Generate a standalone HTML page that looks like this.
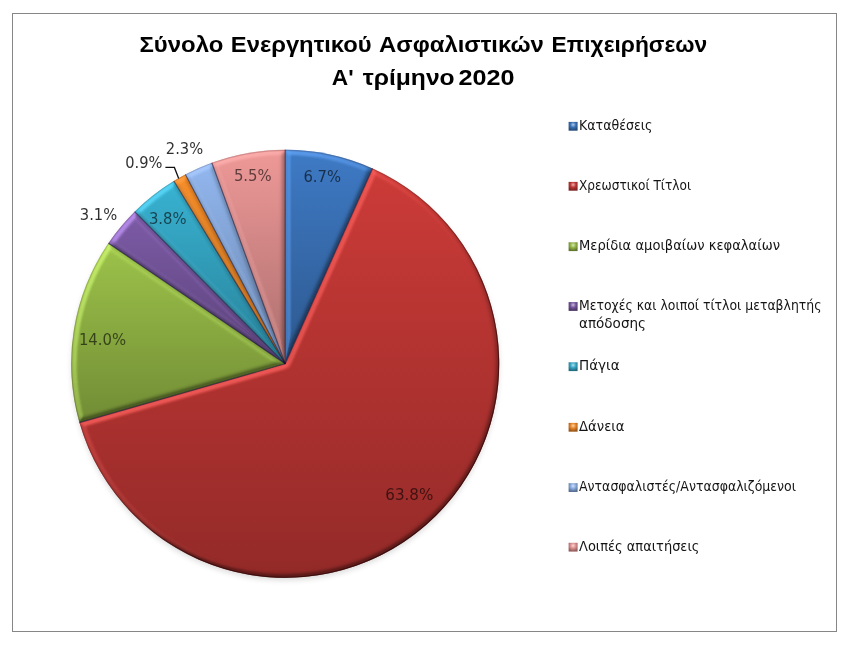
<!DOCTYPE html>
<html lang="el"><head><meta charset="utf-8"><title>Σύνολο Ενεργητικού Ασφαλιστικών Επιχειρήσεων</title>
<style>
html,body{margin:0;padding:0;background:#fff;}
body{width:860px;height:647px;overflow:hidden;font-family:"Liberation Sans",sans-serif;}
svg{display:block}
.title text{font-family:"Liberation Sans",sans-serif;font-weight:bold;font-size:22.3px;fill:#000}
.dl text{font-family:"DejaVu Sans Condensed","DejaVu Sans","Liberation Sans",sans-serif;font-size:15.8px;fill:#000;font-stretch:condensed}
.lg text{font-family:"DejaVu Sans Condensed","DejaVu Sans","Liberation Sans",sans-serif;font-size:13.7px;fill:#000;fill-opacity:0.92;font-stretch:condensed}
</style></head><body>
<svg width="860" height="647" viewBox="0 0 860 647">
<defs>
<filter id="bev0" x="-5%" y="-5%" width="110%" height="110%" color-interpolation-filters="sRGB">
  <feGaussianBlur in="SourceAlpha" stdDeviation="2.5" result="h"/>
  <feDiffuseLighting in="h" surfaceScale="5.0" diffuseConstant="1" lighting-color="#ffffff" result="lit">
    <feDistantLight azimuth="245" elevation="45"/>
  </feDiffuseLighting>
  <feColorMatrix in="lit" type="matrix" values="0 0 0 0 0.412  0 0 0 0 0.675  0 0 0 0 1.000  2.6 0 0 0 -1.8385" result="hl"/>
  <feComposite in="hl" in2="SourceAlpha" operator="in" result="hlc"/>
  <feDiffuseLighting in="h" surfaceScale="5.0" diffuseConstant="1" lighting-color="#ffffff" result="lit2">
    <feDistantLight azimuth="175" elevation="45"/>
  </feDiffuseLighting>
  <feColorMatrix in="lit2" type="matrix" values="0 0 0 0 0.412  0 0 0 0 0.675  0 0 0 0 1.000  1.3 0 0 0 -0.9192" result="hl2"/>
  <feComposite in="hl2" in2="SourceAlpha" operator="in" result="hlc2"/>
  <feColorMatrix in="lit" type="matrix" values="0 0 0 0 0  0 0 0 0 0  0 0 0 0 0  -0.5 0 0 0 0.3536" result="sh"/>
  <feComposite in="sh" in2="SourceAlpha" operator="in" result="shc"/>
  <feMerge><feMergeNode in="SourceGraphic"/><feMergeNode in="shc"/><feMergeNode in="hlc"/><feMergeNode in="hlc2"/></feMerge>
</filter>
<filter id="bev1" x="-5%" y="-5%" width="110%" height="110%" color-interpolation-filters="sRGB">
  <feGaussianBlur in="SourceAlpha" stdDeviation="2.5" result="h"/>
  <feDiffuseLighting in="h" surfaceScale="5.0" diffuseConstant="1" lighting-color="#ffffff" result="lit">
    <feDistantLight azimuth="245" elevation="45"/>
  </feDiffuseLighting>
  <feColorMatrix in="lit" type="matrix" values="0 0 0 0 1.000  0 0 0 0 0.388  0 0 0 0 0.376  2.6 0 0 0 -1.8385" result="hl"/>
  <feComposite in="hl" in2="SourceAlpha" operator="in" result="hlc"/>
  <feDiffuseLighting in="h" surfaceScale="5.0" diffuseConstant="1" lighting-color="#ffffff" result="lit2">
    <feDistantLight azimuth="175" elevation="45"/>
  </feDiffuseLighting>
  <feColorMatrix in="lit2" type="matrix" values="0 0 0 0 1.000  0 0 0 0 0.388  0 0 0 0 0.376  1.3 0 0 0 -0.9192" result="hl2"/>
  <feComposite in="hl2" in2="SourceAlpha" operator="in" result="hlc2"/>
  <feColorMatrix in="lit" type="matrix" values="0 0 0 0 0  0 0 0 0 0  0 0 0 0 0  -0.5 0 0 0 0.3536" result="sh"/>
  <feComposite in="sh" in2="SourceAlpha" operator="in" result="shc"/>
  <feMerge><feMergeNode in="SourceGraphic"/><feMergeNode in="shc"/><feMergeNode in="hlc"/><feMergeNode in="hlc2"/></feMerge>
</filter>
<filter id="bev2" x="-5%" y="-5%" width="110%" height="110%" color-interpolation-filters="sRGB">
  <feGaussianBlur in="SourceAlpha" stdDeviation="2.5" result="h"/>
  <feDiffuseLighting in="h" surfaceScale="5.0" diffuseConstant="1" lighting-color="#ffffff" result="lit">
    <feDistantLight azimuth="245" elevation="45"/>
  </feDiffuseLighting>
  <feColorMatrix in="lit" type="matrix" values="0 0 0 0 0.831  0 0 0 0 1.000  0 0 0 0 0.467  2.6 0 0 0 -1.8385" result="hl"/>
  <feComposite in="hl" in2="SourceAlpha" operator="in" result="hlc"/>
  <feDiffuseLighting in="h" surfaceScale="5.0" diffuseConstant="1" lighting-color="#ffffff" result="lit2">
    <feDistantLight azimuth="175" elevation="45"/>
  </feDiffuseLighting>
  <feColorMatrix in="lit2" type="matrix" values="0 0 0 0 0.831  0 0 0 0 1.000  0 0 0 0 0.467  1.3 0 0 0 -0.9192" result="hl2"/>
  <feComposite in="hl2" in2="SourceAlpha" operator="in" result="hlc2"/>
  <feColorMatrix in="lit" type="matrix" values="0 0 0 0 0  0 0 0 0 0  0 0 0 0 0  -0.5 0 0 0 0.3536" result="sh"/>
  <feComposite in="sh" in2="SourceAlpha" operator="in" result="shc"/>
  <feMerge><feMergeNode in="SourceGraphic"/><feMergeNode in="shc"/><feMergeNode in="hlc"/><feMergeNode in="hlc2"/></feMerge>
</filter>
<filter id="bev3" x="-5%" y="-5%" width="110%" height="110%" color-interpolation-filters="sRGB">
  <feGaussianBlur in="SourceAlpha" stdDeviation="2.5" result="h"/>
  <feDiffuseLighting in="h" surfaceScale="5.0" diffuseConstant="1" lighting-color="#ffffff" result="lit">
    <feDistantLight azimuth="245" elevation="45"/>
  </feDiffuseLighting>
  <feColorMatrix in="lit" type="matrix" values="0 0 0 0 0.784  0 0 0 0 0.608  0 0 0 0 1.000  2.6 0 0 0 -1.8385" result="hl"/>
  <feComposite in="hl" in2="SourceAlpha" operator="in" result="hlc"/>
  <feDiffuseLighting in="h" surfaceScale="5.0" diffuseConstant="1" lighting-color="#ffffff" result="lit2">
    <feDistantLight azimuth="175" elevation="45"/>
  </feDiffuseLighting>
  <feColorMatrix in="lit2" type="matrix" values="0 0 0 0 0.784  0 0 0 0 0.608  0 0 0 0 1.000  1.3 0 0 0 -0.9192" result="hl2"/>
  <feComposite in="hl2" in2="SourceAlpha" operator="in" result="hlc2"/>
  <feColorMatrix in="lit" type="matrix" values="0 0 0 0 0  0 0 0 0 0  0 0 0 0 0  -0.5 0 0 0 0.3536" result="sh"/>
  <feComposite in="sh" in2="SourceAlpha" operator="in" result="shc"/>
  <feMerge><feMergeNode in="SourceGraphic"/><feMergeNode in="shc"/><feMergeNode in="hlc"/><feMergeNode in="hlc2"/></feMerge>
</filter>
<filter id="bev4" x="-5%" y="-5%" width="110%" height="110%" color-interpolation-filters="sRGB">
  <feGaussianBlur in="SourceAlpha" stdDeviation="2.5" result="h"/>
  <feDiffuseLighting in="h" surfaceScale="5.0" diffuseConstant="1" lighting-color="#ffffff" result="lit">
    <feDistantLight azimuth="245" elevation="45"/>
  </feDiffuseLighting>
  <feColorMatrix in="lit" type="matrix" values="0 0 0 0 0.369  0 0 0 0 0.871  0 0 0 0 1.000  2.6 0 0 0 -1.8385" result="hl"/>
  <feComposite in="hl" in2="SourceAlpha" operator="in" result="hlc"/>
  <feDiffuseLighting in="h" surfaceScale="5.0" diffuseConstant="1" lighting-color="#ffffff" result="lit2">
    <feDistantLight azimuth="175" elevation="45"/>
  </feDiffuseLighting>
  <feColorMatrix in="lit2" type="matrix" values="0 0 0 0 0.369  0 0 0 0 0.871  0 0 0 0 1.000  1.3 0 0 0 -0.9192" result="hl2"/>
  <feComposite in="hl2" in2="SourceAlpha" operator="in" result="hlc2"/>
  <feColorMatrix in="lit" type="matrix" values="0 0 0 0 0  0 0 0 0 0  0 0 0 0 0  -0.5 0 0 0 0.3536" result="sh"/>
  <feComposite in="sh" in2="SourceAlpha" operator="in" result="shc"/>
  <feMerge><feMergeNode in="SourceGraphic"/><feMergeNode in="shc"/><feMergeNode in="hlc"/><feMergeNode in="hlc2"/></feMerge>
</filter>
<filter id="bev5" x="-5%" y="-5%" width="110%" height="110%" color-interpolation-filters="sRGB">
  <feGaussianBlur in="SourceAlpha" stdDeviation="2.5" result="h"/>
  <feDiffuseLighting in="h" surfaceScale="5.0" diffuseConstant="1" lighting-color="#ffffff" result="lit">
    <feDistantLight azimuth="245" elevation="45"/>
  </feDiffuseLighting>
  <feColorMatrix in="lit" type="matrix" values="0 0 0 0 1.000  0 0 0 0 0.631  0 0 0 0 0.278  2.6 0 0 0 -1.8385" result="hl"/>
  <feComposite in="hl" in2="SourceAlpha" operator="in" result="hlc"/>
  <feDiffuseLighting in="h" surfaceScale="5.0" diffuseConstant="1" lighting-color="#ffffff" result="lit2">
    <feDistantLight azimuth="175" elevation="45"/>
  </feDiffuseLighting>
  <feColorMatrix in="lit2" type="matrix" values="0 0 0 0 1.000  0 0 0 0 0.631  0 0 0 0 0.278  1.3 0 0 0 -0.9192" result="hl2"/>
  <feComposite in="hl2" in2="SourceAlpha" operator="in" result="hlc2"/>
  <feColorMatrix in="lit" type="matrix" values="0 0 0 0 0  0 0 0 0 0  0 0 0 0 0  -0.5 0 0 0 0.3536" result="sh"/>
  <feComposite in="sh" in2="SourceAlpha" operator="in" result="shc"/>
  <feMerge><feMergeNode in="SourceGraphic"/><feMergeNode in="shc"/><feMergeNode in="hlc"/><feMergeNode in="hlc2"/></feMerge>
</filter>
<filter id="bev6" x="-5%" y="-5%" width="110%" height="110%" color-interpolation-filters="sRGB">
  <feGaussianBlur in="SourceAlpha" stdDeviation="2.5" result="h"/>
  <feDiffuseLighting in="h" surfaceScale="5.0" diffuseConstant="1" lighting-color="#ffffff" result="lit">
    <feDistantLight azimuth="245" elevation="45"/>
  </feDiffuseLighting>
  <feColorMatrix in="lit" type="matrix" values="0 0 0 0 0.667  0 0 0 0 0.800  0 0 0 0 1.000  2.6 0 0 0 -1.8385" result="hl"/>
  <feComposite in="hl" in2="SourceAlpha" operator="in" result="hlc"/>
  <feDiffuseLighting in="h" surfaceScale="5.0" diffuseConstant="1" lighting-color="#ffffff" result="lit2">
    <feDistantLight azimuth="175" elevation="45"/>
  </feDiffuseLighting>
  <feColorMatrix in="lit2" type="matrix" values="0 0 0 0 0.667  0 0 0 0 0.800  0 0 0 0 1.000  1.3 0 0 0 -0.9192" result="hl2"/>
  <feComposite in="hl2" in2="SourceAlpha" operator="in" result="hlc2"/>
  <feColorMatrix in="lit" type="matrix" values="0 0 0 0 0  0 0 0 0 0  0 0 0 0 0  -0.5 0 0 0 0.3536" result="sh"/>
  <feComposite in="sh" in2="SourceAlpha" operator="in" result="shc"/>
  <feMerge><feMergeNode in="SourceGraphic"/><feMergeNode in="shc"/><feMergeNode in="hlc"/><feMergeNode in="hlc2"/></feMerge>
</filter>
<filter id="bev7" x="-5%" y="-5%" width="110%" height="110%" color-interpolation-filters="sRGB">
  <feGaussianBlur in="SourceAlpha" stdDeviation="2.5" result="h"/>
  <feDiffuseLighting in="h" surfaceScale="5.0" diffuseConstant="1" lighting-color="#ffffff" result="lit">
    <feDistantLight azimuth="245" elevation="45"/>
  </feDiffuseLighting>
  <feColorMatrix in="lit" type="matrix" values="0 0 0 0 1.000  0 0 0 0 0.694  0 0 0 0 0.690  2.6 0 0 0 -1.8385" result="hl"/>
  <feComposite in="hl" in2="SourceAlpha" operator="in" result="hlc"/>
  <feDiffuseLighting in="h" surfaceScale="5.0" diffuseConstant="1" lighting-color="#ffffff" result="lit2">
    <feDistantLight azimuth="175" elevation="45"/>
  </feDiffuseLighting>
  <feColorMatrix in="lit2" type="matrix" values="0 0 0 0 1.000  0 0 0 0 0.694  0 0 0 0 0.690  1.3 0 0 0 -0.9192" result="hl2"/>
  <feComposite in="hl2" in2="SourceAlpha" operator="in" result="hlc2"/>
  <feColorMatrix in="lit" type="matrix" values="0 0 0 0 0  0 0 0 0 0  0 0 0 0 0  -0.5 0 0 0 0.3536" result="sh"/>
  <feComposite in="sh" in2="SourceAlpha" operator="in" result="shc"/>
  <feMerge><feMergeNode in="SourceGraphic"/><feMergeNode in="shc"/><feMergeNode in="hlc"/><feMergeNode in="hlc2"/></feMerge>
</filter>

<filter id="ds" x="-10%" y="-10%" width="120%" height="120%">
  <feGaussianBlur stdDeviation="3"/>
</filter>
<linearGradient id="g0" gradientUnits="userSpaceOnUse" x1="0" y1="149.8" x2="0" y2="363.8"><stop offset="0" stop-color="#3E7AC5"/><stop offset="1" stop-color="#2D588E"/></linearGradient>
<linearGradient id="g1" gradientUnits="userSpaceOnUse" x1="0" y1="168.5" x2="0" y2="577.8"><stop offset="0" stop-color="#CC3B38"/><stop offset="1" stop-color="#932A28"/></linearGradient>
<linearGradient id="g2" gradientUnits="userSpaceOnUse" x1="0" y1="243.2" x2="0" y2="422.6"><stop offset="0" stop-color="#9DC34A"/><stop offset="1" stop-color="#718C35"/></linearGradient>
<linearGradient id="g3" gradientUnits="userSpaceOnUse" x1="0" y1="211.7" x2="0" y2="363.8"><stop offset="0" stop-color="#7D5BA7"/><stop offset="1" stop-color="#5A4278"/></linearGradient>
<linearGradient id="g4" gradientUnits="userSpaceOnUse" x1="0" y1="181.0" x2="0" y2="363.8"><stop offset="0" stop-color="#38B2D2"/><stop offset="1" stop-color="#288097"/></linearGradient>
<linearGradient id="g5" gradientUnits="userSpaceOnUse" x1="0" y1="174.5" x2="0" y2="363.8"><stop offset="0" stop-color="#F98E28"/><stop offset="1" stop-color="#B3661D"/></linearGradient>
<linearGradient id="g6" gradientUnits="userSpaceOnUse" x1="0" y1="162.8" x2="0" y2="363.8"><stop offset="0" stop-color="#92B7EF"/><stop offset="1" stop-color="#6984AC"/></linearGradient>
<linearGradient id="g7" gradientUnits="userSpaceOnUse" x1="0" y1="149.8" x2="0" y2="363.8"><stop offset="0" stop-color="#EE9998"/><stop offset="1" stop-color="#AB6E6D"/></linearGradient>

<radialGradient id="m0" cx="0.5" cy="0.32" r="0.62"><stop offset="0" stop-color="#B2CAE8"/><stop offset="0.5" stop-color="#3970B5"/><stop offset="1" stop-color="#264C7A"/></radialGradient>
<radialGradient id="m1" cx="0.5" cy="0.32" r="0.62"><stop offset="0" stop-color="#EBB1AF"/><stop offset="0.5" stop-color="#BC3634"/><stop offset="1" stop-color="#7E2523"/></radialGradient>
<radialGradient id="m2" cx="0.5" cy="0.32" r="0.62"><stop offset="0" stop-color="#D8E7B7"/><stop offset="0.5" stop-color="#90B344"/><stop offset="1" stop-color="#61792E"/></radialGradient>
<radialGradient id="m3" cx="0.5" cy="0.32" r="0.62"><stop offset="0" stop-color="#CBBDDC"/><stop offset="0.5" stop-color="#73549A"/><stop offset="1" stop-color="#4E3868"/></radialGradient>
<radialGradient id="m4" cx="0.5" cy="0.32" r="0.62"><stop offset="0" stop-color="#AFE0ED"/><stop offset="0.5" stop-color="#34A4C1"/><stop offset="1" stop-color="#236E82"/></radialGradient>
<radialGradient id="m5" cx="0.5" cy="0.32" r="0.62"><stop offset="0" stop-color="#FDD2A9"/><stop offset="0.5" stop-color="#E58325"/><stop offset="1" stop-color="#9A5819"/></radialGradient>
<radialGradient id="m6" cx="0.5" cy="0.32" r="0.62"><stop offset="0" stop-color="#D3E2F9"/><stop offset="0.5" stop-color="#86A8DC"/><stop offset="1" stop-color="#5B7194"/></radialGradient>
<radialGradient id="m7" cx="0.5" cy="0.32" r="0.62"><stop offset="0" stop-color="#F8D6D6"/><stop offset="0.5" stop-color="#DB8D8C"/><stop offset="1" stop-color="#945F5E"/></radialGradient>

<linearGradient id="rim" x1="0.15" y1="0.1" x2="0.85" y2="0.9">
  <stop offset="0" stop-color="#200000" stop-opacity="0.15"/>
  <stop offset="0.45" stop-color="#200000" stop-opacity="0.25"/>
  <stop offset="0.7" stop-color="#200000" stop-opacity="0.5"/>
  <stop offset="1" stop-color="#200000" stop-opacity="0.6"/>
</linearGradient>
</defs>
<rect x="0" y="0" width="860" height="647" fill="#fff"/>
<rect x="12.5" y="13.5" width="824" height="618" fill="#fff" stroke="#868686" stroke-width="1"/>
<g class="title">
<text x="139.5" y="51.5" textLength="83.9" lengthAdjust="spacingAndGlyphs">Σύνολο</text>
<text x="230.8" y="51.5" textLength="140.9" lengthAdjust="spacingAndGlyphs">Ενεργητικού</text>
<text x="379.1" y="51.5" textLength="164.8" lengthAdjust="spacingAndGlyphs">Ασφαλιστικών</text>
<text x="551.5" y="51.5" textLength="155.7" lengthAdjust="spacingAndGlyphs">Επιχειρήσεων</text>
<text x="331.8" y="85" textLength="21.8" lengthAdjust="spacingAndGlyphs">Α'</text>
<text x="362.7" y="85" textLength="92.0" lengthAdjust="spacingAndGlyphs">τρίμηνο</text>
<text x="458.5" y="85" textLength="56.0" lengthAdjust="spacingAndGlyphs">2020</text>
</g>
<circle cx="285.2" cy="366.8" r="213.0" fill="#000" opacity="0.16" filter="url(#ds)"/>
<g class="pie">
<path d="M285.2,363.8 L285.20,149.80 A214.0,214.0 0 0 1 372.58,168.45 Z" fill="url(#g0)" filter="url(#bev0)"/>
<path d="M285.2,363.8 L372.58,168.45 A214.0,214.0 0 1 1 79.44,422.61 Z" fill="url(#g1)" filter="url(#bev1)"/>
<path d="M285.2,363.8 L79.44,422.61 A214.0,214.0 0 0 1 108.41,243.21 Z" fill="url(#g2)" filter="url(#bev2)"/>
<path d="M285.2,363.8 L108.41,243.21 A214.0,214.0 0 0 1 134.67,211.69 Z" fill="url(#g3)" filter="url(#bev3)"/>
<path d="M285.2,363.8 L134.67,211.69 A214.0,214.0 0 0 1 173.86,181.04 Z" fill="url(#g4)" filter="url(#bev4)"/>
<path d="M285.2,363.8 L173.86,181.04 A214.0,214.0 0 0 1 185.39,174.50 Z" fill="url(#g5)" filter="url(#bev5)"/>
<path d="M285.2,363.8 L185.39,174.50 A214.0,214.0 0 0 1 211.83,162.77 Z" fill="url(#g6)" filter="url(#bev6)"/>
<path d="M285.2,363.8 L211.83,162.77 A214.0,214.0 0 0 1 285.20,149.80 Z" fill="url(#g7)" filter="url(#bev7)"/>

<g stroke="#101030" stroke-opacity="0.6" stroke-width="1.1">
<line x1="285.2" y1="363.8" x2="285.20" y2="149.80"/>
<line x1="285.2" y1="363.8" x2="372.58" y2="168.45"/>
<line x1="285.2" y1="363.8" x2="79.44" y2="422.61"/>
<line x1="285.2" y1="363.8" x2="108.41" y2="243.21"/>
<line x1="285.2" y1="363.8" x2="134.67" y2="211.69"/>
<line x1="285.2" y1="363.8" x2="173.86" y2="181.04"/>
<line x1="285.2" y1="363.8" x2="185.39" y2="174.50"/>
<line x1="285.2" y1="363.8" x2="211.83" y2="162.77"/>
</g>
<circle cx="285.2" cy="363.8" r="213.5" fill="none" stroke="url(#rim)" stroke-width="1.2"/>
</g>
<polyline points="165.4,167.4 174.4,167.4 178.7,178.5" fill="none" stroke="#111" stroke-width="1.3"/>
<g class="dl">
<text x="303.4" y="181.7" fill-opacity="0.6" textLength="37.6" lengthAdjust="spacingAndGlyphs">6.7%</text>
<text x="385.3" y="499.7" fill-opacity="0.6" textLength="48.0" lengthAdjust="spacingAndGlyphs">63.8%</text>
<text x="78.9" y="344.7" fill-opacity="0.6" textLength="47.2" lengthAdjust="spacingAndGlyphs">14.0%</text>
<text x="79.8" y="219.6" fill-opacity="0.82" textLength="37.4" lengthAdjust="spacingAndGlyphs">3.1%</text>
<text x="148.9" y="223.6" fill-opacity="0.6" textLength="37.6" lengthAdjust="spacingAndGlyphs">3.8%</text>
<text x="125.2" y="167.6" fill-opacity="0.82" textLength="37.2" lengthAdjust="spacingAndGlyphs">0.9%</text>
<text x="165.8" y="154.2" fill-opacity="0.82" textLength="37.3" lengthAdjust="spacingAndGlyphs">2.3%</text>
<text x="233.9" y="181.2" fill-opacity="0.6" textLength="37.8" lengthAdjust="spacingAndGlyphs">5.5%</text>
</g>
<g class="lg">
<rect x="568.6" y="121.9" width="9" height="8.8" fill="url(#m0)"/>
<text x="579" y="129.8" textLength="73.5" lengthAdjust="spacingAndGlyphs">Καταθέσεις</text>
<rect x="568.6" y="181.9" width="9" height="8.8" fill="url(#m1)"/>
<text x="579" y="189.8" textLength="112.0" lengthAdjust="spacingAndGlyphs">Χρεωστικοί Τίτλοι</text>
<rect x="568.6" y="242.3" width="9" height="8.8" fill="url(#m2)"/>
<text x="579" y="250.2" textLength="201.0" lengthAdjust="spacingAndGlyphs">Μερίδια αμοιβαίων κεφαλαίων</text>
<rect x="568.6" y="302.1" width="9" height="8.8" fill="url(#m3)"/>
<text x="579" y="310" textLength="242.5" lengthAdjust="spacingAndGlyphs">Μετοχές και λοιποί τίτλοι μεταβλητής</text>
<rect x="568.6" y="362.3" width="9" height="8.8" fill="url(#m4)"/>
<text x="579" y="370.2" textLength="40.6" lengthAdjust="spacingAndGlyphs">Πάγια</text>
<rect x="568.6" y="422.9" width="9" height="8.8" fill="url(#m5)"/>
<text x="579" y="430.8" textLength="45.5" lengthAdjust="spacingAndGlyphs">Δάνεια</text>
<rect x="568.6" y="483.2" width="9" height="8.8" fill="url(#m6)"/>
<text x="579" y="491.1" textLength="217.0" lengthAdjust="spacingAndGlyphs">Αντασφαλιστές/Αντασφαλιζόμενοι</text>
<rect x="568.6" y="542.8" width="9" height="8.8" fill="url(#m7)"/>
<text x="579" y="550.7" textLength="120.4" lengthAdjust="spacingAndGlyphs">Λοιπές απαιτήσεις</text>
<text x="579" y="327.8" textLength="67" lengthAdjust="spacingAndGlyphs">απόδοσης</text>

</g>
</svg>
</body></html>
